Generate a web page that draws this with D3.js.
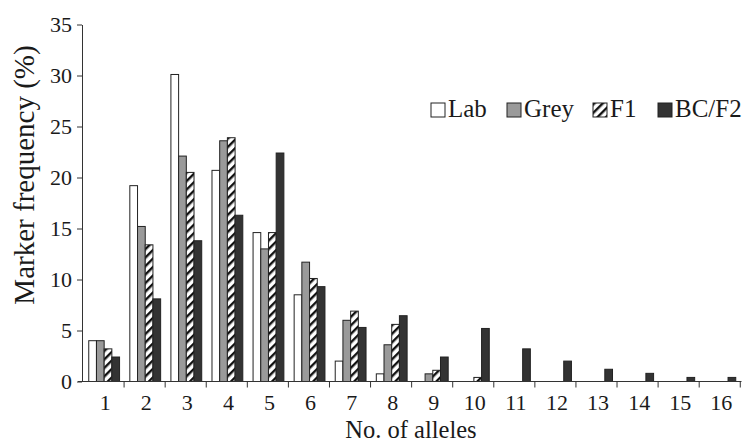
<!DOCTYPE html>
<html>
<head>
<meta charset="utf-8">
<script src="https://cdn.jsdelivr.net/npm/d3@7"></script>
<style>
  body { margin: 0; background: #fff; }
  svg { display: block; }
  text { font-family: "Liberation Serif", "Times New Roman", serif; fill: #1a1a1a; }
</style>
</head>
<body>
<svg id="chart" width="744" height="443"></svg>
<script>
const categories = ["1","2","3","4","5","6","7","8","9","10","11","12","13","14","15","16"];
const seriesNames = ["Lab","Grey","F1","BC/F2"];
const lab  = [4.0, 19.2, 30.1, 20.7, 14.6, 8.5, 2.0, 0.75, 0, 0, 0, 0, 0, 0, 0, 0];
const grey = [4.0, 15.2, 22.1, 23.6, 13.0, 11.7, 6.0, 3.6, 0.75, 0, 0, 0, 0, 0, 0, 0];
const f1   = [3.2, 13.4, 20.5, 23.9, 14.6, 10.1, 6.9, 5.6, 1.1, 0.4, 0, 0, 0, 0, 0, 0];
const bcf2 = [2.4, 8.1, 13.8, 16.3, 22.4, 9.3, 5.3, 6.45, 2.4, 5.2, 3.2, 2.0, 1.2, 0.8, 0.4, 0.4];
const yTicks = [0, 5, 10, 15, 20, 25, 30, 35];

const seriesValues = [lab, grey, f1, bcf2];
const svg = d3.select("#chart");

// hatch pattern
const defs = svg.append("defs");
const pat = defs.append("pattern")
  .attr("id", "hatch").attr("patternUnits", "userSpaceOnUse")
  .attr("width", 6).attr("height", 6)
  .attr("patternTransform", "rotate(45)");
pat.append("rect").attr("width", 6).attr("height", 6).attr("fill", "#fff");
pat.append("rect").attr("x", 0).attr("width", 2.4).attr("height", 6).attr("fill", "#111");

const fills = ["#ffffff", "#9a9a9a", "url(#hatch)", "#333333"];

const x0 = d3.scaleBand().domain(categories).range([83, 741.5]).paddingInner(0.25).paddingOuter(0.14);
const x1 = d3.scaleBand().domain(seriesNames).range([0, x0.bandwidth()]);
const y = d3.scaleLinear().domain([0, 35]).range([381.5, 24.5]);

// bars
const data = categories.map((c, i) => ({ c, vals: seriesNames.map((s, j) => ({ s, j, v: seriesValues[j][i] })) }));
const groups = svg.append("g").selectAll("g").data(data).join("g")
  .attr("transform", d => `translate(${x0(d.c)},0)`);
groups.selectAll("rect").data(d => d.vals.filter(e => e.v > 0)).join("rect")
  .attr("x", d => x1(d.s))
  .attr("width", x1.bandwidth())
  .attr("y", d => y(d.v))
  .attr("height", d => y(0) - y(d.v))
  .attr("fill", d => fills[d.j])
  .attr("stroke", "#222")
  .attr("stroke-width", 1);

// y axis
const yAxis = svg.append("g").attr("transform", "translate(82,0)")
  .call(d3.axisLeft(y).tickValues(yTicks).tickSize(5).tickSizeOuter(0).tickPadding(5));
yAxis.selectAll("text").style("font-size", "22px").attr("fill", "#1a1a1a");
yAxis.select(".domain").attr("stroke", "#333");
yAxis.selectAll(".tick line").attr("stroke", "#333");

// x axis
const xAxisG = svg.append("g").attr("transform", `translate(0,${y(0)})`);
xAxisG.append("line").attr("x1", 78).attr("x2", 741.5).attr("stroke", "#333");
const step = x0.step();
const bounds = categories.map((c, i) => 83 + step * (i + 1));
xAxisG.selectAll("line.tk").data(bounds).join("line").attr("class", "tk")
  .attr("x1", d => d).attr("x2", d => d).attr("y1", 0).attr("y2", 6).attr("stroke", "#333");
xAxisG.selectAll("text").data(categories).join("text")
  .attr("x", d => x0(d) + x0.bandwidth() / 2 + 1)
  .attr("y", 28)
  .attr("text-anchor", "middle")
  .style("font-size", "22px")
  .text(d => d);

// axis titles
svg.append("text").attr("x", 411).attr("y", 438).attr("text-anchor", "middle")
  .style("font-size", "24.5px").text("No. of alleles");
svg.append("text").attr("transform", "translate(34,175) rotate(-90)").attr("text-anchor", "middle")
  .style("font-size", "29px").text("Marker frequency (%)");

// legend
const legendX = [431, 507, 593, 658];
const lg = svg.append("g").selectAll("g").data(seriesNames).join("g")
  .attr("transform", (d, i) => `translate(${legendX[i]},103)`);
lg.append("rect").attr("width", 14).attr("height", 14)
  .attr("fill", (d, i) => fills[i]).attr("stroke", "#222").attr("stroke-width", 1);
lg.append("text").attr("x", 17).attr("y", 14).style("font-size", "25px").text(d => d);
</script>
</body>
</html>
